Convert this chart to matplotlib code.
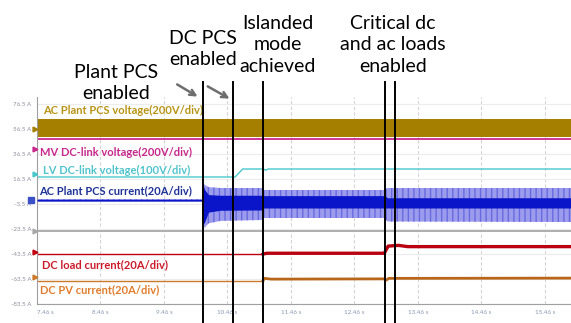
import numpy as np
import matplotlib.pyplot as plt

plt.rcParams['font.family'] = ['Lato', 'DejaVu Sans']
plt.rcParams['hatch.linewidth'] = 1.0

# axis ticks (oscilloscope graticule)
x_ticks = [7.46, 8.46, 9.46, 10.46, 11.46, 12.46, 13.46, 14.46, 15.46]
y_ticks = [76.5, 56.5, 36.5, 16.5, -3.5, -23.5, -43.5, -63.5, -83.5]

# AC plant PCS voltage band (min / max)
vac_t = [7.46, 15.87]
vac_hi = [64.5, 64.5]
vac_lo = [50.5, 50.5]

# MV DC-link voltage
vmv_t = [7.46, 15.87]
vmv = [48.5, 48.5]

# LV DC-link voltage
vlv_t = [7.46, 10.58, 10.70, 11.03, 11.06, 11.10, 15.87]
vlv = [18.1, 18.1, 24.5, 24.5, 23.5, 24.5, 24.5]

# AC plant PCS current: outer envelope and dense core
iac_t = [7.46, 10.065, 10.075, 10.10, 10.16, 10.35, 11.01, 11.03, 12.93, 12.98, 15.87]
iac_env_hi = [0.3, 0.3, 14.0, 12.0, 10.0, 9.3, 9.3, 7.7, 7.7, 9.3, 9.3]
iac_env_lo = [-1.2, -1.2, -18.0, -22.7, -19.0, -17.0, -16.3, -14.7, -14.7, -17.5, -17.9]
iac_core_hi = [0.3, 0.3, 12.0, 8.0, 4.0, 3.5, 3.5, 3.2, 3.2, 1.5, 1.5]
iac_core_lo = [-1.2, -1.2, -20.0, -18.0, -10.0, -8.5, -8.3, -6.7, -6.7, -6.7, -6.7]

# spare channel (flat)
ref_t = [7.46, 15.87]
ref = [-24.8, -24.8]

# DC load current
iload_t = [7.46, 11.02, 11.04, 11.08, 12.93, 12.99, 13.15, 13.30, 15.87]
iload = [-43.7, -43.7, -43.3, -42.9, -42.9, -37.2, -36.6, -37.6, -37.6]

# DC PV current
ipv_t = [7.46, 11.02, 11.04, 11.15, 12.93, 12.96, 13.00, 15.87]
ipv = [-64.8, -64.8, -63.0, -63.6, -63.4, -64.4, -63.0, -62.8]

# events (s)
events = [10.074, 10.547, 11.019, 12.94, 13.098]

fig = plt.figure(figsize=(5.71, 3.23), dpi=100)
ax = fig.add_axes([37 / 571, 19 / 323, 534 / 571, 207 / 323])
ax.set_xlim(7.46, 15.87)
ax.set_ylim(-83.5, 82.1)

for x in x_ticks[1:]:
    ax.axvline(x, color='#d4d4d4', lw=0.8, ls=(0, (3, 2)), zorder=0)
for y in y_ticks:
    ax.axhline(y, color='#ececec', lw=0.8, zorder=0)

ax.fill_between(vac_t, vac_lo, vac_hi, color='#a47f00', lw=0, zorder=2)
ax.plot(vmv_t, vmv, color='#c8288c', lw=1.3, zorder=2)
ax.plot(vlv_t, vlv, color='#48c8cc', lw=1.0, zorder=2)
ax.fill_between(iac_t, iac_env_lo, iac_env_hi, facecolor='#9c9cee',
                edgecolor='#6a6ae0', hatch='|||', lw=0, zorder=2)
ax.fill_between(iac_t, iac_core_lo, iac_core_hi, color='#0a14c8', lw=0, zorder=3)
ax.plot(ref_t, ref, color='#a8a8a8', lw=1.3, zorder=2)
ax.plot(iload_t[:2], iload[:2], color='#c00010', lw=1.0, zorder=2)
ax.plot(iload_t[1:], iload[1:], color='#b80010', lw=2.4, zorder=2)
ax.plot(ipv_t[:2], ipv[:2], color='#cc7a2a', lw=1.0, zorder=2)
ax.plot(ipv_t[1:], ipv[1:], color='#b8661a', lw=2.0, zorder=2)

# channel labels
ax.text(7.554, 71.7, 'AC Plant PCS voltage(200V/div)', color='#b89414',
        fontsize=8, fontweight='bold', va='center', zorder=5)
ax.text(7.507, 38.1, 'MV DC-link voltage(200V/div)', color='#c8288c',
        fontsize=8, fontweight='bold', va='center', zorder=5)
ax.text(7.554, 23.7, 'LV DC-link voltage(100V/div)', color='#50c4cc',
        fontsize=8, fontweight='bold', va='center', zorder=5)
ax.text(7.49, 7.2, 'AC Plant PCS current(20A/div)', color='#1e3296',
        fontsize=8, fontweight='bold', va='center', zorder=5)
ax.text(7.539, -52.3, 'DC load current(20A/div)', color='#cc1a2a',
        fontsize=8, fontweight='bold', va='center', zorder=5)
ax.text(7.507, -72.3, 'DC PV current(20A/div)', color='#e07c2c',
        fontsize=8, fontweight='bold', va='center', zorder=5)

# channel markers at the left edge
for lvl, c in [(56.5, '#a47f00'), (40.5, '#c8288c'), (20.5, '#48c8cc'),
               (-24.8, '#a8a8a8'), (-41.5, '#c00010'), (-62.0, '#cc7a2a')]:
    ax.plot(7.43, lvl, marker='>', ms=3.5, color=c, clip_on=False, zorder=6)
ax.plot(7.36, -0.3, marker='s', ms=5, color='#3c50c8', clip_on=False, zorder=6)

# event markers
for x in events:
    ax.axvline(x, ymin=-0.095, ymax=1.072, color='black', lw=1.4,
               clip_on=False, zorder=7)

ax.annotate('', xy=(10.027, 81.3), xytext=(9.63, 93.3),
            arrowprops=dict(arrowstyle='->', color='#6e6e6e', lw=1.8),
            annotation_clip=False)
ax.annotate('', xy=(10.53, 79.7), xytext=(10.11, 91.7),
            arrowprops=dict(arrowstyle='->', color='#6e6e6e', lw=1.8),
            annotation_clip=False)

fig.text(116 / 571, 1 - 83 / 323, 'Plant PCS\nenabled', ha='center', va='center',
         fontsize=14, linespacing=1.3)
fig.text(203 / 571, 1 - 49 / 323, 'DC PCS\nenabled', ha='center', va='center',
         fontsize=14, linespacing=1.3)
fig.text(278 / 571, 1 - 45 / 323, 'Islanded\nmode\nachieved', ha='center',
         va='center', fontsize=14, linespacing=1.3)
fig.text(393 / 571, 1 - 45 / 323, 'Critical dc\nand ac loads\nenabled', ha='center',
         va='center', fontsize=14, linespacing=1.3)

ax.set_xticks(x_ticks)
ax.set_xticklabels([f'{x:.2f} s' for x in x_ticks], fontsize=4.5, color='#8a96b4')
ax.get_xticklabels()[0].set_ha('left')
ax.set_yticks(y_ticks)
ax.set_yticklabels([f'{y} A' for y in y_ticks], fontsize=4.5, color='#9090a0')
ax.tick_params(length=0, pad=4)
for s in ['top', 'right']:
    ax.spines[s].set_visible(False)
for s in ['left', 'bottom']:
    ax.spines[s].set_color('#a0a0a0')
    ax.spines[s].set_linewidth(0.8)

fig.savefig('out.png', dpi=100)
